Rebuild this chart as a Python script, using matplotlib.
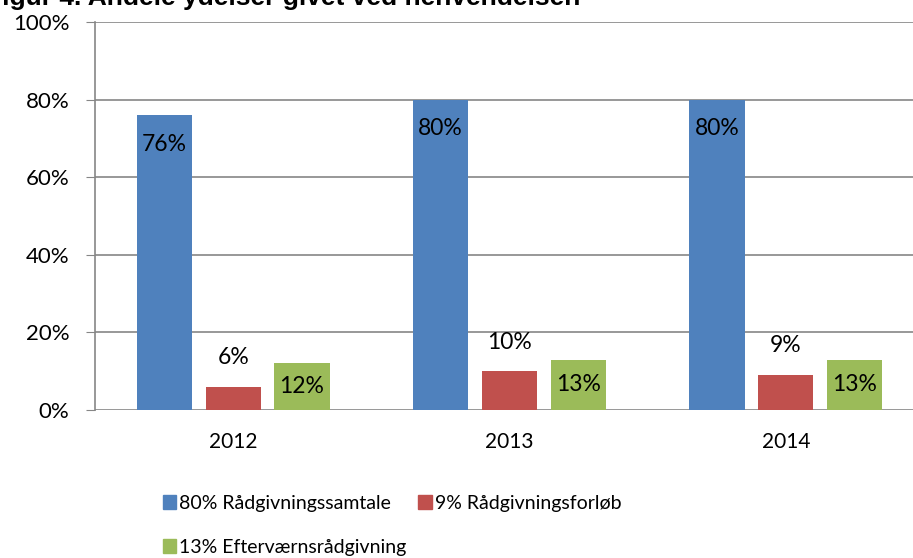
import numpy as np
import matplotlib.pyplot as plt
from matplotlib.patches import Patch

years = ["2012", "2013", "2014"]
series = ["80% Rådgivningssamtale", "9% Rådgivningsforløb", "13% Efterværnsrådgivning"]
samtale = [76, 80, 80]
forloeb = [6, 10, 9]
efter = [12, 13, 13]
colors = ["#4F81BD", "#C0504D", "#9BBB59"]
yticks = [0, 20, 40, 60, 80, 100]
title = "Figur 4. Andele ydelser givet ved henvendelsen"

plt.rcParams['font.family'] = ['Lato', 'DejaVu Sans']

W, H = 913, 558
fig = plt.figure(figsize=(W / 100, H / 100), dpi=100)
# axes spans 95px..924px horizontally (right edge is cut off), 22px..410px vertically
ax = fig.add_axes([95 / W, 1 - 410 / H, (924 - 95) / W, (410 - 22) / H])

x = np.arange(len(years))
width = 0.2
offset = 0.249
vals = [samtale, forloeb, efter]
for i, (v, c) in enumerate(zip(vals, colors)):
    bars = ax.bar(x + (i - 1) * offset, v, width, color=c, zorder=3)
    for b, val in zip(bars, v):
        cx = b.get_x() + b.get_width() / 2
        if i == 0:
            ax.text(cx, val - 7.5, f"{val}%", ha='center', va='center', fontsize=16.5, zorder=4)
        elif i == 1:
            ax.text(cx, val + 7.5, f"{val}%", ha='center', va='center', fontsize=16.5, zorder=4)
        else:
            ax.text(cx, val / 2, f"{val}%", ha='center', va='center', fontsize=16.5, zorder=4)

ax.set_xlim(-0.5, 2.5)
ax.set_ylim(0, 100)
ax.set_yticks(yticks)
ax.set_yticklabels([f"{t}%" for t in yticks], fontsize=16)
ax.set_xticks(x)
ax.set_xticklabels(years, fontsize=15)
ax.tick_params(axis='x', length=0, pad=16)
ax.tick_params(axis='y', length=6.5, color='#868686', pad=12)
ax.grid(axis='y', color='#868686', linewidth=1.2, zorder=0)
for s in ['top', 'right', 'bottom']:
    ax.spines[s].set_visible(False)
ax.spines['left'].set_color('#868686')
ax.spines['left'].set_linewidth(1.2)

# legend fills column-wise, so reorder to get row-wise layout
order = [0, 2, 1]
handles = [Patch(color=colors[k]) for k in order]
labels = [series[k] for k in order]
fig.legend(handles, labels, loc='upper left', bbox_to_anchor=(153 / W, 1 - 485 / H),
           ncol=2, frameon=False, fontsize=14, handlelength=0.7, handleheight=0.7,
           handletextpad=0.15, columnspacing=0.6, labelspacing=1.4, borderpad=0)

# title is partly cut off at the top in the original
fig.text(-14 / W, 1 + 14 / H, title, fontsize=19, fontweight='bold',
         family='Liberation Sans', va='top', ha='left')

fig.savefig("out.png", dpi=100)
